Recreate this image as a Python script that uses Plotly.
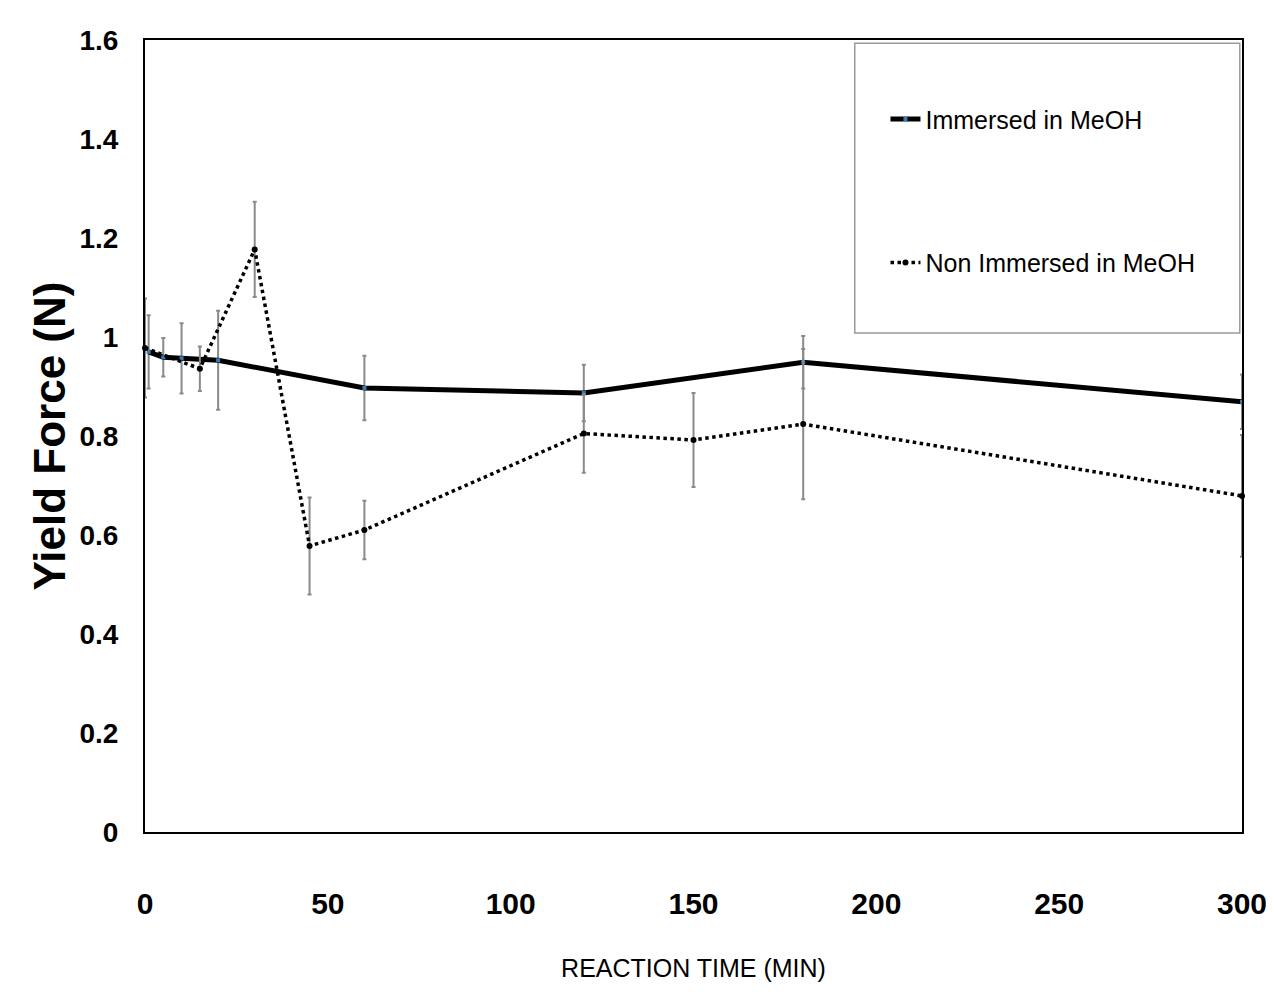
import plotly.graph_objects as go

# Immersed in MeOH (solid)
imm_x = [1, 5, 10, 20, 60, 120, 180, 300]
imm_y = [0.970, 0.959, 0.957, 0.953, 0.897, 0.887, 0.949, 0.869]
imm_err = [0.074, 0.039, 0.071, 0.100, 0.065, 0.057, 0.053, 0.055]

# Non Immersed in MeOH (dotted)
non_x = [0, 15, 30, 45, 60, 120, 150, 180, 300]
non_y = [0.978, 0.936, 1.177, 0.578, 0.610, 0.805, 0.792, 0.824, 0.679]
non_err = [0.100, 0.045, 0.096, 0.098, 0.059, 0.079, 0.095, 0.152, 0.123]

x_ticks = [0, 50, 100, 150, 200, 250, 300]
y_ticks = [0, 0.2, 0.4, 0.6, 0.8, 1.0, 1.2, 1.4, 1.6]
y_tick_text = ["0", "0.2", "0.4", "0.6", "0.8", "1", "1.2", "1.4", "1.6"]

NARROW = "Liberation Sans Narrow, Arial Narrow, Liberation Sans, Arial, sans-serif"
ERR_COLOR = "#8a8a8a"

fig = go.Figure()
fig.add_trace(go.Scatter(
    x=imm_x, y=imm_y, mode="lines+markers", name="Immersed in MeOH",
    line=dict(color="black", width=5),
    marker=dict(symbol="square", size=4, color="#3a78b8"),
    error_y=dict(type="data", array=imm_err, visible=True, color=ERR_COLOR, thickness=2, width=2),
    legendgroup="a", cliponaxis=False,
))
fig.add_trace(go.Scatter(
    x=non_x, y=non_y, mode="lines+markers", name="Non Immersed in MeOH",
    line=dict(color="black", width=3.5, dash="dot"),
    marker=dict(symbol="circle", size=6, color="black"),
    error_y=dict(type="data", array=non_err, visible=True, color=ERR_COLOR, thickness=2, width=2),
    legendgroup="b", cliponaxis=False,
))

# legend frame
fig.add_shape(type="rect", xref="paper", yref="paper",
              x0=0.647, x1=0.998, y0=0.630, y1=0.996,
              line=dict(color="#9a9a9a", width=1.5), fillcolor="white", layer="below")

fig.update_layout(
    width=1274, height=1000,
    margin=dict(l=137, r=40, t=32, b=176),
    paper_bgcolor="white", plot_bgcolor="white",
    showlegend=True,
    legend=dict(x=0.675, y=0.929, xanchor="left", yanchor="top",
                bgcolor="rgba(0,0,0,0)", borderwidth=0,
                font=dict(family=NARROW, size=25, color="black"),
                tracegroupgap=108, traceorder="grouped", itemwidth=30),
    xaxis=dict(range=[0, 300], tickvals=x_ticks, showgrid=False, zeroline=False,
               showline=True, linecolor="black", linewidth=2, mirror=True,
               ticks="", ticklabelstandoff=44, automargin=False,
               tickfont=dict(family=NARROW, size=30, color="black", weight="bold"),
               title=dict(text="REACTION TIME (MIN)", standoff=40,
                          font=dict(family=NARROW, size=25, color="black"))),
    yaxis=dict(range=[0, 1.6], tickvals=y_ticks, ticktext=y_tick_text, showgrid=False,
               zeroline=False, showline=True, linecolor="black", linewidth=2, mirror=True,
               ticks="", ticklabelstandoff=19, automargin=False,
               tickfont=dict(family=NARROW, size=28, color="black", weight="bold"),
               title=dict(text="Yield Force (N)", standoff=0,
                          font=dict(family="Liberation Sans, Arial, sans-serif", size=44,
                                    color="black", weight="bold"))),
)

fig.write_html("out.html")
